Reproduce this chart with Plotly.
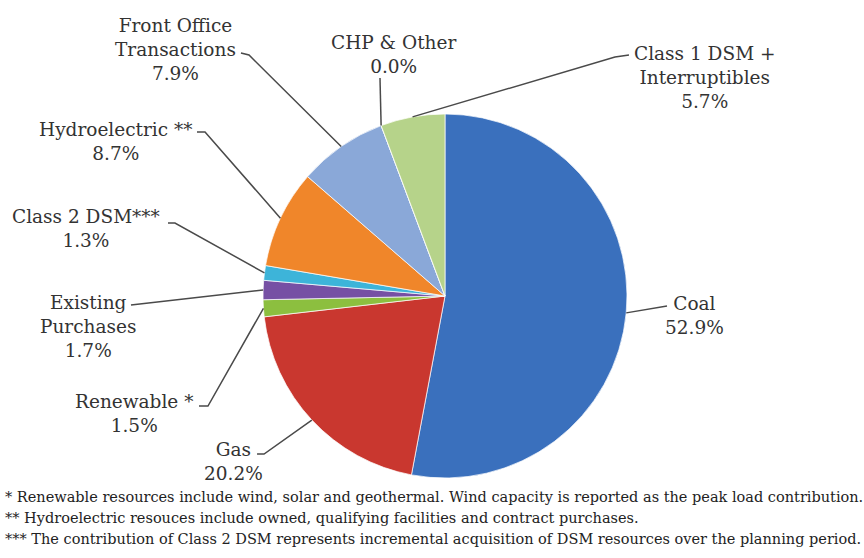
import math

import plotly.graph_objects as go

# Resource mix, clockwise from 12 o'clock
labels = [
    "Coal",
    "Gas",
    "Renewable *",
    "Existing<br>Purchases",
    "Class 2 DSM***",
    "Hydroelectric **",
    "Front Office<br>Transactions",
    "CHP & Other",
    "Class 1 DSM +<br>Interruptibles",
]
shares = [52.9, 20.2, 1.5, 1.7, 1.3, 8.7, 7.9, 0.0, 5.7]
colors = [
    "#3a70bd", "#c9372f", "#8cbf3f", "#7650a4", "#3db4d9",
    "#f0862a", "#8aa8d8", "#d0d0d0", "#b6d38a",
]
footnotes = [
    "* Renewable resources include wind, solar and geothermal. Wind capacity is reported as the peak load contribution.",
    "** Hydroelectric resouces include owned, qualifying facilities and contract purchases.",
    "*** The contribution of Class 2 DSM represents incremental acquisition of DSM resources over the planning period.",
]

W, H = 864, 558
CX, CY, R = 445, 296, 182
TEXT = "#333333"
SERIF = "DejaVu Serif"

# label block centre, leader start, optional elbow (pixels)
label_layout = [
    ((694, 315), (667, 306), None),
    ((233, 461), (257, 454), (264, 454)),
    ((134, 413), (199, 406), (208, 406)),
    ((88, 326), (131, 305), None),
    ((86, 229), (168, 223), (175, 223)),
    ((116, 141), (197, 132), (205, 132)),
    ((175, 50), (241, 53), (249, 55)),
    ((393, 55), (380, 78), None),
    ((704, 77), (629, 55), (615, 57)),
]


def px(x, y):
    return x / W, 1 - y / H


fig = go.Figure(
    go.Pie(
        labels=labels,
        values=[max(v, 1e-9) for v in shares],
        sort=False,
        direction="clockwise",
        rotation=0,
        textinfo="none",
        hoverinfo="label+percent",
        marker={"colors": colors, "line": {"color": "rgba(255,255,255,0.7)", "width": 1}},
        domain={"x": [(CX - R) / W, (CX + R) / W], "y": [1 - (CY + R) / H, 1 - (CY - R) / H]},
        showlegend=False,
    )
)

total = sum(shares)
cum = 0.0
shapes = []
annotations = []
for lab, val, (txt, start, elbow) in zip(labels, shares, label_layout):
    mid = (cum + val / 2) / total * 2 * math.pi
    cum += val
    ex = CX + R * math.sin(mid)
    ey = CY - R * math.cos(mid)
    pts = [start] + ([elbow] if elbow else []) + [(ex, ey)]
    path = "M " + " L ".join(
        f"{px(x, y)[0]:.4f},{px(x, y)[1]:.4f}" for x, y in pts
    )
    shapes.append(
        {"type": "path", "path": path, "xref": "paper", "yref": "paper",
         "line": {"color": "#4a4a4a", "width": 1.5}}
    )
    tx, ty = px(*txt)
    annotations.append(
        {"text": f"{lab}<br>{val:.1f}%", "x": tx, "y": ty, "xref": "paper", "yref": "paper",
         "xanchor": "center", "yanchor": "middle", "align": "center", "showarrow": False,
         "font": {"family": SERIF, "size": 18.5, "color": TEXT}}
    )

for i, note in enumerate(footnotes):
    annotations.append(
        {"text": note, "x": 3 / W, "y": 1 - (497 + 21 * i) / H, "xref": "paper", "yref": "paper",
         "xanchor": "left", "yanchor": "middle", "showarrow": False,
         "font": {"family": SERIF, "size": 14.5, "color": "#222222"}}
    )

fig.update_layout(
    width=W,
    height=H,
    margin={"l": 0, "r": 0, "t": 0, "b": 0},
    paper_bgcolor="white",
    plot_bgcolor="white",
    shapes=shapes,
    annotations=annotations,
)

# drop the default page margin so the figure fills the window
fig.write_html(
    "out.html",
    config={"displayModeBar": False},
    post_script="document.body.style.margin='0';",
)
